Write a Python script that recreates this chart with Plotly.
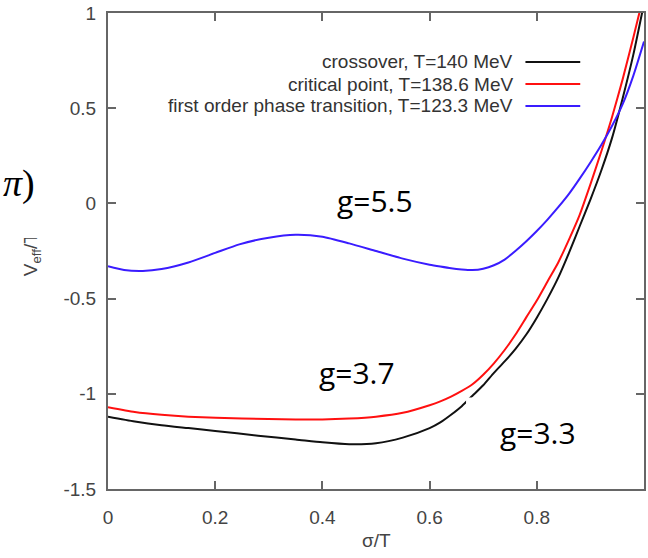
import plotly.graph_objects as go

# ---- data ----
x_cross = [0, 0.05, 0.10, 0.15, 0.20, 0.28, 0.35, 0.40, 0.45, 0.50, 0.55, 0.60, 0.62, 0.64, 0.66,
           0.68, 0.70, 0.72, 0.74, 0.76, 0.78, 0.80, 0.82, 0.84, 0.86, 0.88, 0.90, 0.92, 0.94, 0.96, 0.98, 1.0]
y_cross = [-1.12, -1.145, -1.165, -1.18, -1.195, -1.22, -1.24, -1.255, -1.265, -1.26, -1.23, -1.18, -1.15, -1.11, -1.065,
           -1.01, -0.955, -0.89, -0.83, -0.765, -0.69, -0.60, -0.50, -0.39, -0.26, -0.12, 0.02, 0.17, 0.34, 0.55, 0.78, 1.05]

x_crit = [0, 0.05, 0.10, 0.15, 0.25, 0.35, 0.40, 0.45, 0.50, 0.55, 0.60, 0.62, 0.64, 0.66, 0.68,
          0.70, 0.72, 0.74, 0.76, 0.78, 0.80, 0.82, 0.84, 0.86, 0.88, 0.90, 0.92, 0.94, 0.96, 0.98, 1.0]
y_crit = [-1.07, -1.095, -1.11, -1.12, -1.13, -1.135, -1.135, -1.13, -1.12, -1.10, -1.06, -1.04, -1.015, -0.985, -0.95,
          -0.90, -0.84, -0.77, -0.69, -0.60, -0.51, -0.41, -0.31, -0.19, -0.06, 0.10, 0.27, 0.45, 0.65, 0.87, 1.1]

x_first = [0, 0.03, 0.065, 0.10, 0.15, 0.20, 0.245, 0.30, 0.35, 0.40, 0.45, 0.50, 0.55, 0.60, 0.62, 0.64, 0.66,
           0.68, 0.70, 0.72, 0.74, 0.76, 0.78, 0.80, 0.82, 0.84, 0.86, 0.88, 0.90, 0.92, 0.94, 0.96, 0.98, 1.0]
y_first = [-0.33, -0.35, -0.355, -0.345, -0.31, -0.26, -0.215, -0.18, -0.165, -0.175, -0.21, -0.25, -0.29, -0.322, -0.332,
           -0.341, -0.347, -0.35, -0.343, -0.325, -0.295, -0.25, -0.20, -0.145, -0.085, -0.02, 0.05, 0.13, 0.215, 0.305,
           0.405, 0.52, 0.67, 0.85]

names = ["crossover, T=140 MeV", "critical point, T=138.6 MeV", "first order phase transition, T=123.3 MeV"]
colors = ["#111111", "#ff1010", "#3a1cff"]
g_labels = ["g=3.3", "g=3.7", "g=5.5"]
g_pos = [(0.803, -1.203), (0.465, -0.888), (0.498, 0.016)]

x_ticks = [0, 0.2, 0.4, 0.6, 0.8, 1]
x_ticktext = ["0", "0.2", "0.4", "0.6", "0.8", "1"]
y_ticks = [-1.5, -1, -0.5, 0, 0.5, 1]
y_ticktext = ["-1.5", "-1", "-0.5", "0", "0.5", "1"]

# ---- figure ----
W, H = 648, 558
L, R, T, B = 108, 2, 13, 69
pw, ph = W - L - R, H - T - B


def px2paper(px, py):
    return (px - L) / pw, (H - B - py) / ph


fig = go.Figure()
for xs, ys, nm, c in zip([x_cross, x_crit, x_first], [y_cross, y_crit, y_first], names, colors):
    fig.add_trace(go.Scatter(x=xs, y=ys, mode="lines", name=nm,
                             line=dict(color=c, width=2, shape="spline", smoothing=0.6),
                             showlegend=False, hoverinfo="skip"))

font_axis = dict(family="Liberation Sans, Arial, sans-serif", size=19, color="#444444")
axis_common = dict(showline=True, linecolor="#666666", linewidth=2, mirror="ticks",
                   ticks="inside", ticklen=8, tickwidth=1.5, tickcolor="#666666",
                   showgrid=False, zeroline=False, tickfont=font_axis)

fig.update_xaxes(range=[0, 1], tickvals=x_ticks, ticktext=x_ticktext,
                 ticklabelstandoff=10, **axis_common)
fig.update_yaxes(range=[-1.5, 1], tickvals=y_ticks, ticktext=y_ticktext,
                 ticklabelstandoff=6, **axis_common)

annotations = []
# custom legend: text on the left, line sample on the right
legend_rows = [62, 84, 106]
shapes = []
for nm, c, ry in zip(names, colors, legend_rows):
    tx, ty = px2paper(517, ry)
    annotations.append(dict(x=tx, y=ty, xref="paper", yref="paper", text=nm, showarrow=False,
                            xanchor="right", yanchor="middle",
                            font=dict(family="Liberation Sans, Arial, sans-serif", size=19, color="#333333")))
    x0, _ = px2paper(527, ry)
    x1, _ = px2paper(582, ry)
    shapes.append(dict(type="line", xref="paper", yref="paper", x0=x0, x1=x1, y0=ty, y1=ty,
                       line=dict(color=c, width=2.2)))

# white box behind the g=3.3 label (slide overlay)
shapes.append(dict(type="rect", xref="x", yref="y", x0=0.668, x1=0.95, y0=-1.40, y1=-1.02,
                   fillcolor="white", line=dict(width=0), layer="above"))

# g labels
for txt, (gx, gy) in zip(g_labels, g_pos):
    annotations.append(dict(x=gx, y=gy, xref="x", yref="y", text=txt, showarrow=False,
                            xanchor="center", yanchor="middle",
                            font=dict(family="Open Sans, sans-serif", size=30, color="black")))

# axis titles
tx, ty = px2paper(377, 540)
annotations.append(dict(x=0.5, y=ty, xref="paper", yref="paper", text="σ/T", showarrow=False,
                        xanchor="center", yanchor="middle", font=font_axis))
tx, ty = px2paper(30, 250)
annotations.append(dict(x=tx, y=ty, xref="paper", yref="paper", text="V<sub>eff</sub>/T<sup>4</sup>",
                        showarrow=False, textangle=-90, xanchor="center", yanchor="middle", font=font_axis))
# white slide overlay covering the top of the y title
cx, cy = px2paper(0, 120)
annotations.append(dict(x=cx, y=cy, xref="paper", yref="paper", text=" ", showarrow=False,
                        xanchor="left", yanchor="top", width=56, height=118, bgcolor="white",
                        borderpad=0, borderwidth=0))
# partial formula from the slide
px_, py_ = px2paper(37, 184)
annotations.append(dict(x=px_, y=py_, xref="paper", yref="paper", text="<i>π</i>)", showarrow=False,
                        xanchor="right", yanchor="middle",
                        font=dict(family="Liberation Serif, serif", size=38, color="black")))

fig.update_layout(width=W, height=H, margin=dict(l=L, r=R, t=T, b=B),
                  paper_bgcolor="white", plot_bgcolor="white",
                  annotations=annotations, shapes=shapes, showlegend=False)

fig.write_html("out.html")
